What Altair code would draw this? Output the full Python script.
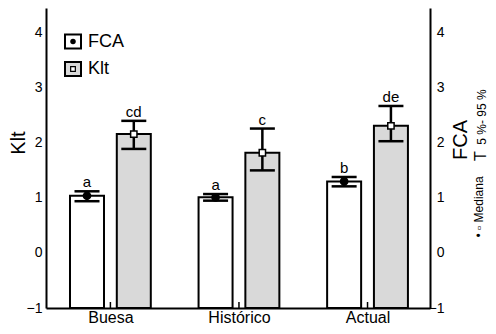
import json
import altair as alt
import pandas as pd

categories = ["Buesa", "Histórico", "Actual"]
series = ["FCA", "Klt"]
fca_value = [1.04, 1.01, 1.30]
fca_low = [0.94, 0.95, 1.21]
fca_high = [1.12, 1.07, 1.38]
fca_letters = ["a", "a", "b"]
klt_value = [2.16, 1.82, 2.31]
klt_low = [1.89, 1.50, 2.03]
klt_high = [2.40, 2.26, 2.67]
klt_letters = ["cd", "c", "de"]
y_ticks = [-1, 0, 1, 2, 3, 4]

FONT = "Liberation Sans"
W, H = 384, 300
offsets = {"FCA": -0.182, "Klt": 0.182}

rows = []
for s, vals, lo, hi, let in [("FCA", fca_value, fca_low, fca_high, fca_letters),
                             ("Klt", klt_value, klt_low, klt_high, klt_letters)]:
    for i, c in enumerate(categories):
        rows.append({"category": c, "idx": i + 1, "series": s, "value": vals[i],
                     "low": lo[i], "high": hi[i], "letter": let[i],
                     "xpos": i + 1 + offsets[s]})
df = pd.DataFrame(rows)
cat_df = pd.DataFrame({"category": categories, "xpos": list(range(1, len(categories) + 1))})

label_expr = json.dumps(categories, ensure_ascii=False) + "[datum.value - 1]"
x_scale = alt.Scale(domain=[0.538, 3.447], nice=False, zero=False)
y_scale = alt.Scale(domain=[-1, 4.45], nice=False, zero=False)

x_axis = alt.Axis(values=[1, 2, 3], labelExpr=label_expr, title=None, grid=False,
                  ticks=False, domainWidth=2, domainColor="black", labelFontSize=16,
                  labelPadding=14.5, labelBaseline="alphabetic", labelColor="black", labelFont=FONT)
x_enc = alt.X("xpos:Q", scale=x_scale, axis=x_axis)
left_axis = alt.Axis(values=y_ticks, title=None, grid=False, ticks=False, domainWidth=2,
                     domainColor="black", labelFontSize=14, labelPadding=4,
                     labelColor="black", labelFont=FONT)
right_axis = alt.Axis(values=y_ticks, title=None, grid=False, ticks=False, domainWidth=2,
                      domainColor="black", labelFontSize=14, labelPadding=14, labelAlign="right",
                      labelColor="black", labelFont=FONT, orient="right")

base = alt.Chart(df)

bars = base.mark_bar(size=34, stroke="black", strokeWidth=2).encode(
    x=x_enc,
    y=alt.Y("value:Q", scale=y_scale, axis=left_axis),
    y2=alt.datum(-1),
    fill=alt.Fill("series:N", scale=alt.Scale(domain=series, range=["white", "#d9d9d9"]), legend=None),
)

rules = base.mark_rule(color="black", strokeWidth=2.5).encode(
    x=x_enc,
    y=alt.Y("low:Q", scale=y_scale, axis=right_axis),
    y2="high:Q",
)

cap_hi = base.mark_tick(orient="horizontal", size=25, thickness=2.5, color="black", opacity=1).encode(
    x=x_enc, y=alt.Y("high:Q", scale=y_scale, axis=None))
cap_lo = base.mark_tick(orient="horizontal", size=25, thickness=2.5, color="black", opacity=1).encode(
    x=x_enc, y=alt.Y("low:Q", scale=y_scale, axis=None))

pts_fca = base.transform_filter(alt.datum.series == "FCA").mark_point(
    shape="circle", filled=True, fill="black", stroke="black", size=45, opacity=1).encode(
    x=x_enc, y=alt.Y("value:Q", scale=y_scale, axis=None))
pts_klt = base.transform_filter(alt.datum.series == "Klt").mark_point(
    shape="square", filled=True, fill="white", stroke="black", strokeWidth=1.5, size=40, opacity=1).encode(
    x=x_enc, y=alt.Y("value:Q", scale=y_scale, axis=None))

letters = base.mark_text(baseline="bottom", dy=-1, fontSize=15, font=FONT, color="black").encode(
    x=x_enc, y=alt.Y("high:Q", scale=y_scale, axis=None), text="letter:N")

xticks = alt.Chart(cat_df).mark_rule(color="black", strokeWidth=1.5).encode(
    x=x_enc, y=alt.value(H), y2=alt.value(H - 6))

layers = [bars, rules, cap_hi, cap_lo, pts_fca, pts_klt, letters, xticks]

# legend
for i, s in enumerate(series):
    cy = 33.5 + i * 27.5
    ld = pd.DataFrame({"series": [s]})
    lc = alt.Chart(ld)
    layers.append(lc.mark_rect(stroke="black", strokeWidth=2).encode(
        x=alt.value(19), x2=alt.value(35), y=alt.value(cy - 7), y2=alt.value(cy + 7),
        fill=alt.Fill("series:N", scale=alt.Scale(domain=series, range=["white", "#d9d9d9"]), legend=None)))
    if s == "FCA":
        layers.append(lc.mark_point(shape="circle", filled=True, fill="black", size=30, opacity=1).encode(
            x=alt.value(27), y=alt.value(cy)))
    else:
        layers.append(lc.mark_point(shape="square", filled=True, fill="white", stroke="black",
                                    strokeWidth=1.2, size=22, opacity=1).encode(
            x=alt.value(27), y=alt.value(cy)))
    layers.append(lc.mark_text(align="left", baseline="middle", fontSize=18, font=FONT, color="black").encode(
        x=alt.value(42), y=alt.value(cy), text="series:N"))

# titles and side notes
tdf = pd.DataFrame({"t": [0]})
tc = alt.Chart(tdf)
layers.append(tc.mark_text(text="Klt", angle=270, fontSize=20, font=FONT, color="black",
                           align="center", baseline="middle").encode(x=alt.value(-27), y=alt.value(135)))
layers.append(tc.mark_text(text="FCA", angle=270, fontSize=20, font=FONT, color="black",
                           align="center", baseline="middle").encode(x=alt.value(415), y=alt.value(132)))
layers.append(tc.mark_text(text="5 %- 95 %", angle=270, fontSize=12, font=FONT, color="black",
                           align="center", baseline="middle").encode(x=alt.value(436), y=alt.value(109)))
layers.append(tc.mark_text(text="T", angle=270, fontSize=16, font=FONT, color="black",
                           align="center", baseline="middle").encode(x=alt.value(435), y=alt.value(148)))
layers.append(tc.mark_text(text="• ▫ Mediana", angle=270, fontSize=12, font=FONT, color="black",
                           align="center", baseline="middle").encode(x=alt.value(433), y=alt.value(199)))

chart = alt.layer(*layers).resolve_axis(y="independent").properties(
    width=W, height=H,
    autosize=alt.AutoSizeParams(type="none"),
    padding={"left": 38, "top": 0, "right": 58, "bottom": 18},
).configure_view(stroke=None)

chart.save("out.html", embed_options={"renderer": "svg", "actions": False})
